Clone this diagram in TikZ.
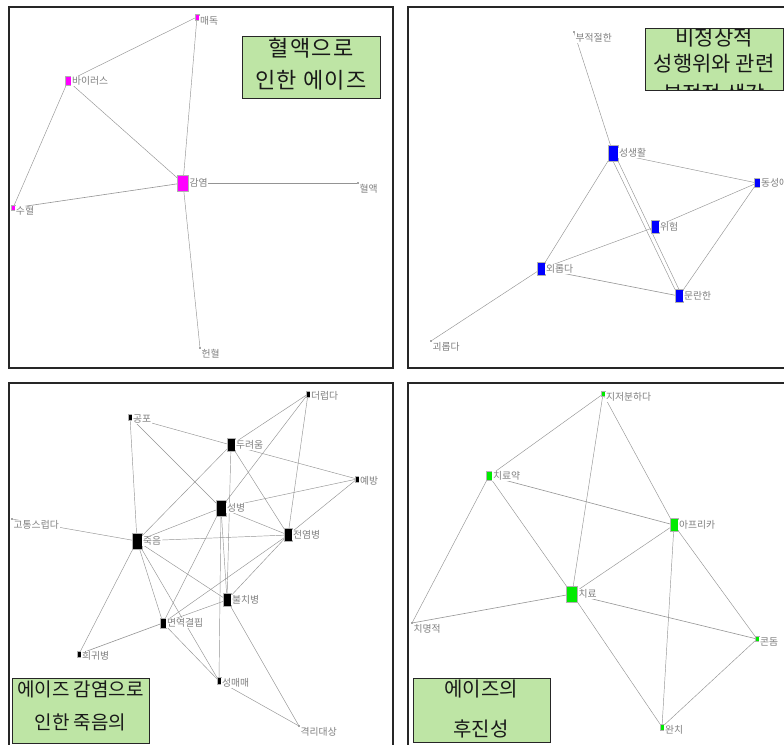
\documentclass[tikz,border=0pt]{standalone}
\usepackage{fontspec}
\setmainfont{Noto Sans CJK KR}
\usetikzlibrary{backgrounds}
\definecolor{mag}{RGB}{255,0,255}
\definecolor{blu}{RGB}{0,0,255}
\definecolor{grn}{RGB}{0,235,0}
\definecolor{titlegreen}{RGB}{190,229,165}
\pgfdeclarelayer{bg}
\pgfsetlayers{bg,main}
\begin{document}
\begin{tikzpicture}[x=1pt,y=-1pt,
  edge/.style={draw=black!42, line width=0.45pt},
  nd/.style={rectangle, draw=black!30, line width=0.3pt, inner sep=0pt, outer sep=0pt},
  sz/.style 2 args={minimum width=#1pt, minimum height=#2pt},
  dot/.style={circle, fill=black!70, inner sep=0pt, minimum size=1.6pt},
  lbl/.style={text=black!50, fill=white, font=\fontsize{9.8}{10}\selectfont, inner sep=0.8pt},
  panel/.style={draw=black!85, line width=1.1pt},
  titlebox/.style={draw=black!85, line width=1pt},
  ttl/.style={font=\fontsize{#1}{#1}\selectfont, inner sep=0pt, text=black!90},
  ttl/.default=21
]
\useasboundingbox (0,0) rectangle (784,744);
\begin{pgfonlayer}{bg}
\fill[white] (0,0) rectangle (784,744);
\end{pgfonlayer}
\clip (0,0) rectangle (784,744);

% panels
\draw[panel] (9,7) rectangle (393,368);
\draw[panel] (408,7) rectangle (795,368);
\draw[panel] (9,383) rectangle (393,755);
\draw[panel] (408,383) rectangle (795,755);

% ---------- panel 1 ----------
\node[nd, fill=mag, sz={4}{6}, label={[lbl, yshift=-4pt]east:매독}] (p1a) at (197,17) {};
\node[nd, fill=mag, sz={6}{9}, label={[lbl]east:바이러스}] (p1b) at (68,81) {};
\node[nd, fill=mag, sz={11}{16}, label={[lbl]east:감염}] (p1c) at (183,183) {};
\node[nd, fill=mag, sz={4}{5}, label={[lbl, yshift=-3pt]east:수혈}] (p1d) at (13,208) {};
\node[dot, label={[lbl, anchor=north west]south east:혈액}] (p1e) at (358,183) {};
\node[dot, label={[lbl, anchor=north west]south east:헌혈}] (p1f) at (200,348) {};
\begin{pgfonlayer}{bg}
\draw[edge] (p1a) -- (p1b);
\draw[edge] (p1a) -- (p1c);
\draw[edge] (p1b) -- (p1c);
\draw[edge] (p1b) -- (p1d);
\draw[edge, line width=0.6pt] (p1d) -- (p1c);
\draw[edge, line width=0.6pt] (p1c) -- (p1e);
\draw[edge] (p1c) -- (p1f);
\end{pgfonlayer}
\fill[titlegreen] (242,36) rectangle (380,98);
\node[ttl=22] (t1a) at (311,48) {\addfontfeature{LetterSpace=6}혈액으로};
\node[ttl=22] (t1b) at (311,80) {\addfontfeature{LetterSpace=6}인한 에이즈};
\draw[titlebox] (242,36) rectangle (380,98);

% ---------- panel 2 ----------
\node[dot, label={[lbl, anchor=north west]south east:부적절한}] (q1) at (574,32) {};
\node[nd, fill=blu, sz={10}{16}, label={[lbl]east:성생활}] (q2) at (613,153) {};
\node[nd, fill=blu, sz={6}{9}, label={[lbl]east:동성애}] (q3) at (757,183) {};
\node[nd, fill=blu, sz={8}{13}, label={[lbl]east:위험}] (q4) at (655,227) {};
\node[nd, fill=blu, sz={8}{13}, label={[lbl]east:외롭다}] (q5) at (541,269) {};
\node[nd, fill=blu, sz={8}{13}, label={[lbl]east:문란한}] (q6) at (679,296) {};
\node[dot, label={[lbl, anchor=north west]south east:괴롭다}] (q7) at (431,341) {};
\begin{pgfonlayer}{bg}
\draw[edge] (q1) -- (q2);
\draw[edge] (q2) -- (q3);
\draw[edge] (q2) -- (q5);
\draw[edge] (q2.south) -- (q6.north west);
\draw[edge] (q2.south east) -- (q6.north);
\draw[edge] (q4) -- (q3);
\draw[edge] (q4) -- (q5);
\draw[edge, line width=0.6pt] (q5) -- (q6);
\draw[edge] (q3) -- (q6);
\draw[edge] (q5) -- (q7);
\end{pgfonlayer}
\begin{scope}
\clip (645,28) rectangle (783,90);
\fill[titlegreen] (645,28) rectangle (783,90);
\node[ttl=21] (t2a) at (714,38) {비정상적};
\node[ttl=21] (t2b) at (714,64) {성행위와 관련};
\node[ttl=21] (t2c) at (714,94) {부정적 생각};
\end{scope}
\draw[titlebox] (645,28) rectangle (783,90);

% ---------- panel 3 ----------
\node[nd, fill=black, sz={4}{6}, label={[lbl, yshift=-2pt]east:더럽다}] (r1) at (308,394) {};
\node[nd, fill=black, sz={4}{6}, label={[lbl, yshift=-2pt]east:공포}] (r2) at (130,417) {};
\node[nd, fill=black, sz={8}{13}, label={[lbl]east:두려움}] (r3) at (231,445) {};
\node[nd, fill=black, sz={4}{6}, label={[lbl, yshift=-2pt]east:예방}] (r4) at (357,479) {};
\node[nd, fill=black, sz={10}{16}, label={[lbl]east:성병}] (r5) at (221,508) {};
\node[dot, label={[lbl, anchor=north west]south east:고통스럽다}] (r6) at (12,519) {};
\node[nd, fill=black, sz={10}{16}, label={[lbl]east:죽음}] (r7) at (137,541) {};
\node[nd, fill=black, sz={8}{13}, label={[lbl]east:전염병}] (r8) at (288,535) {};
\node[nd, fill=black, sz={8}{13}, label={[lbl]east:불치병}] (r9) at (227,600) {};
\node[nd, fill=black, sz={6}{10}, label={[lbl]east:면역결핍}] (r10) at (163,623) {};
\node[nd, fill=black, sz={4}{6}, label={[lbl, yshift=-2pt]east:희귀병}] (r11) at (79,654) {};
\node[nd, fill=black, sz={4}{7}, label={[lbl, yshift=-2pt]east:성매매}] (r12) at (219,681) {};
\node[dot, label={[lbl, anchor=north west]south east:격리대상}] (r13) at (299,726) {};
\begin{pgfonlayer}{bg}
\draw[edge] (r2) -- (r3);
\draw[edge] (r2) -- (r5);
\draw[edge] (r2) -- (r7);
\draw[edge] (r1) -- (r3);
\draw[edge] (r1) -- (r5);
\draw[edge] (r1) -- (r8);
\draw[edge] (r3) -- (r4);
\draw[edge] (r3) -- (r7);
\draw[edge] (r3) -- (r9);
\draw[edge] (r3) -- (r8);
\draw[edge] (r4) -- (r5);
\draw[edge] (r4) -- (r8);
\draw[edge] (r5) -- (r7);
\draw[edge] (r5) -- (r8);
\draw[edge] (r5) -- (r10);
\draw[edge] (r5) -- (r9);
\draw[edge] (r5) -- (r12);
\draw[edge] (r7) -- (r8);
\draw[edge] (r7) -- (r6);
\draw[edge] (r7) -- (r9);
\draw[edge] (r7) -- (r10);
\draw[edge] (r7) -- (r11);
\draw[edge] (r7) -- (r12);
\draw[edge] (r8) -- (r10);
\draw[edge] (r8) -- (r9);
\draw[edge] (r9) -- (r10);
\draw[edge] (r9) -- (r13);
\draw[edge, line width=0.6pt] (r10) -- (r11);
\draw[edge] (r10) -- (r12);
\draw[edge] (r12) -- (r13);
\end{pgfonlayer}
\begin{scope}
\clip (12,678) rectangle (149,743);
\fill[titlegreen] (12,678) rectangle (149,743);
\node[ttl=19] (t3a) at (80.5,689) {에이즈 감염으로};
\node[ttl=19] (t3b) at (80.5,722) {인한 죽음의};
\end{scope}
\draw[titlebox] (12,678) rectangle (149,743);

% ---------- panel 4 ----------
\node[nd, fill=grn, sz={4}{5}, label={[lbl, yshift=-3pt]east:지저분하다}] (s1) at (603,394) {};
\node[nd, fill=grn, sz={6}{9}, label={[lbl]east:치료약}] (s2) at (489,476) {};
\node[nd, fill=grn, sz={8}{13}, label={[lbl]east:아프리카}] (s3) at (674,525) {};
\node[nd, fill=grn, sz={11}{16}, label={[lbl]east:치료}] (s4) at (572,594) {};
\node[dot, label={[lbl, anchor=north west]south east:치명적}] (s5) at (412,623) {};
\node[nd, fill=grn, sz={4}{5}, label={[lbl, yshift=-3pt]east:콘돔}] (s6) at (757,639) {};
\node[nd, fill=grn, sz={4}{6}, label={[lbl, yshift=-3pt]east:완치}] (s7) at (662,727) {};
\begin{pgfonlayer}{bg}
\draw[edge] (s1) -- (s2);
\draw[edge] (s1) -- (s4);
\draw[edge] (s1) -- (s3);
\draw[edge, line width=0.6pt] (s2) -- (s3);
\draw[edge] (s2) -- (s4);
\draw[edge] (s2) -- (s5);
\draw[edge] (s3) -- (s4);
\draw[edge] (s3) -- (s7);
\draw[edge] (s3) -- (s6);
\draw[edge, line width=0.6pt] (s4) -- (s5);
\draw[edge, line width=0.6pt] (s4) -- (s6);
\draw[edge] (s4) -- (s7);
\draw[edge] (s6) -- (s7);
\end{pgfonlayer}
\begin{scope}
\clip (413,678) rectangle (550,742);
\fill[titlegreen] (413,678) rectangle (550,742);
\node[ttl=20] (t4a) at (481,689) {에이즈의};
\node[ttl=20] (t4b) at (481,729) {후진성};
\end{scope}
\draw[titlebox] (413,678) rectangle (550,742);
\end{tikzpicture}
\end{document}
